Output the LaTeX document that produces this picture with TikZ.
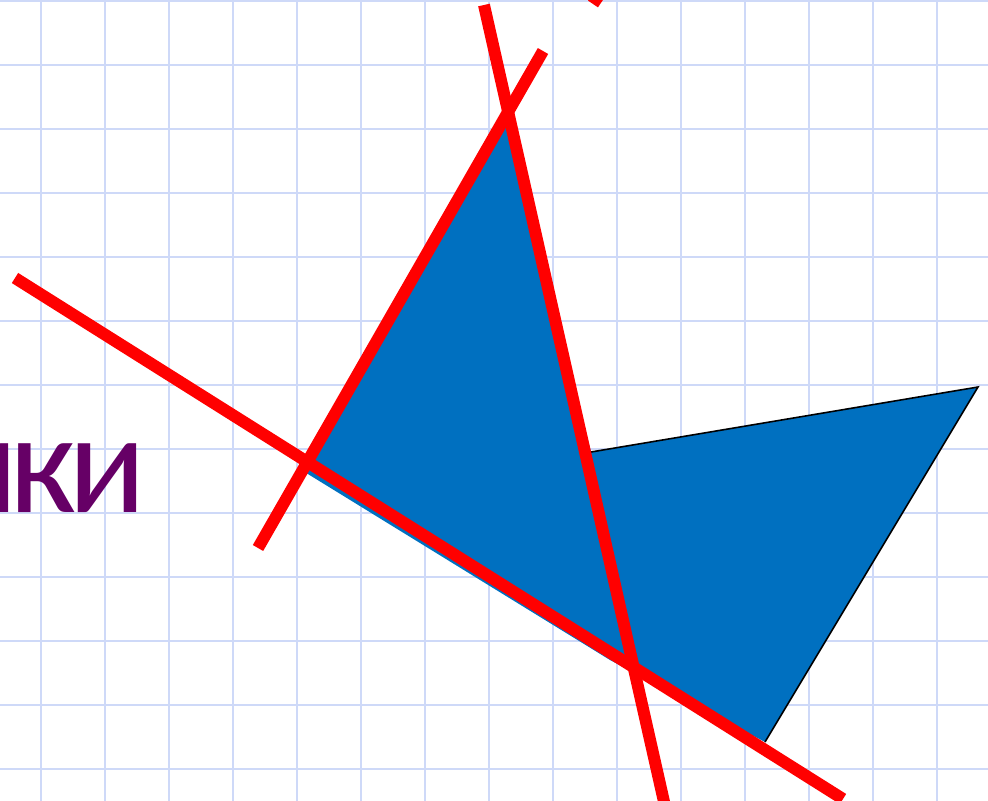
\documentclass[tikz,border=0pt]{standalone}
\usepackage{fontspec}
\newfontfamily\labelfont[LetterSpace=-6]{Carlito}
\definecolor{gridblue}{RGB}{206,217,248}
\definecolor{shapeblue}{RGB}{0,112,192}
\definecolor{wordpurple}{RGB}{102,0,102}
\begin{document}
\begin{tikzpicture}[x=0.02cm, y=-0.02cm,
    gridline/.style={gridblue, line width=1.1pt},
    redline/.style={red, line width=6.8pt}]
  \useasboundingbox (0,0) rectangle (988,801);

  % squared paper
  \foreach \i in {0,...,14}
    \draw[gridline] ({41+64*\i},0) -- ({41+64*\i},801);
  \foreach \j in {0,...,12}
    \draw[gridline] (0,{1+64*\j}) -- (988,{1+64*\j});

  \node[anchor=base east, inner sep=0pt, text=wordpurple,
        font=\labelfont\fontsize{82}{82}\selectfont] (word) at (146,512) {ики};

  \coordinate (A) at (303,471);
  \coordinate (B) at (507,118);
  \coordinate (C) at (591,452);
  \coordinate (D) at (978,387);
  \coordinate (E) at (765,742);
  \coordinate (F) at (610,660);

  % the polygon and its visible outline
  \fill[shapeblue] (A) -- (B) -- (C) -- (D) -- (E) -- (F) -- cycle;
  \draw[line width=0.9pt] (C) -- (D) -- (E);

  % the cutting lines
  \draw[redline] (15,278) -- (843,799);
  \draw[redline] (484,5) -- (667,815);
  \draw[redline] (258,548) -- (543,51);
  \draw[redline] (593,4) -- (610,-21);
\end{tikzpicture}
\end{document}
